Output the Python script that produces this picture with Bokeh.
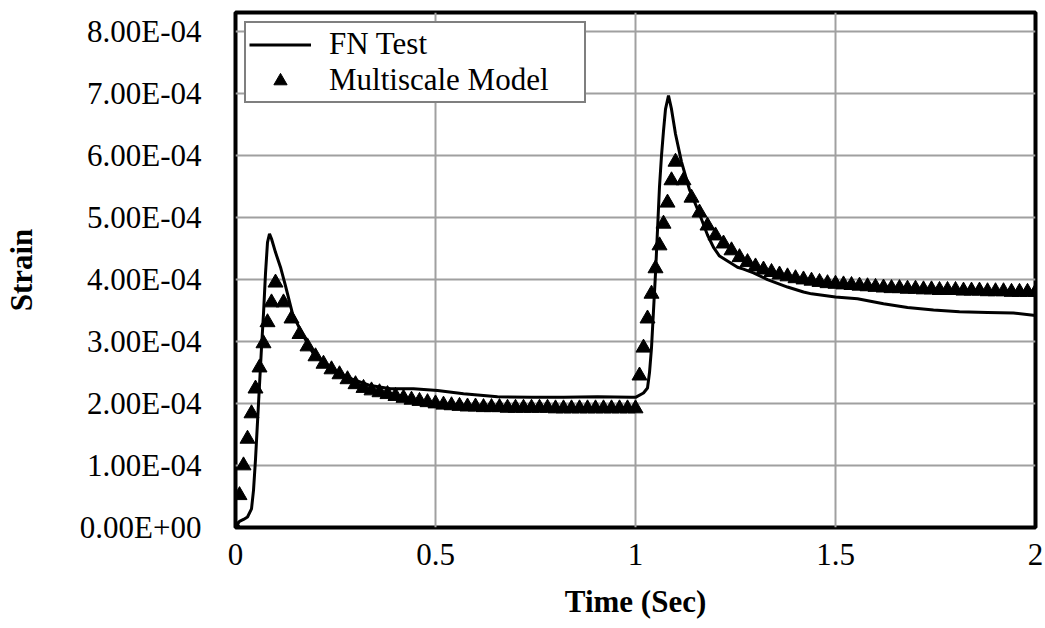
from bokeh.plotting import figure
from bokeh.models import FixedTicker, CustomJSTickFormatter, Range1d, Legend, LegendItem
from bokeh.embed import file_html
from bokeh.resources import INLINE

SCALE = 1e-4  # values below are given in units of 1E-04

# FN Test (solid line)
test_time = [0, 0.01, 0.02, 0.03, 0.04, 0.045, 0.05, 0.055, 0.06, 0.065, 0.07, 0.075, 0.08, 0.085,
             0.09, 0.1, 0.1125, 0.125, 0.1425, 0.1625, 0.195, 0.2375, 0.28, 0.3375, 0.3875, 0.445,
             0.505, 0.57, 0.655, 0.74, 0.82, 0.905, 0.99, 1.0, 1.02, 1.03, 1.035, 1.04, 1.045, 1.05,
             1.055, 1.06, 1.065, 1.07, 1.075, 1.0825, 1.09, 1.1, 1.115, 1.135, 1.16, 1.18, 1.195,
             1.21, 1.23, 1.255, 1.27, 1.295, 1.33, 1.38, 1.42, 1.44, 1.5, 1.555, 1.62, 1.68, 1.745,
             1.81, 1.88, 1.945, 2.0]
test_strain = [0, 0.1, 0.13, 0.17, 0.3, 0.6, 1.1, 1.7, 2.3, 2.9, 3.45, 4.1, 4.6, 4.74,
               4.66, 4.44, 4.2, 3.9, 3.45, 3.18, 2.8, 2.58, 2.42, 2.29, 2.24, 2.24,
               2.21, 2.16, 2.11, 2.10, 2.10, 2.11, 2.10, 2.10, 2.17, 2.25, 2.5, 2.9, 3.5, 4.1,
               4.8, 5.5, 6.0, 6.4, 6.75, 6.97, 6.75, 6.35, 5.9, 5.45, 5.06, 4.72, 4.52,
               4.38, 4.3, 4.2, 4.17, 4.11, 4.0, 3.88, 3.8, 3.77, 3.72, 3.69, 3.61, 3.55, 3.51,
               3.48, 3.47, 3.46, 3.42]

# Multiscale Model (triangles)
model_time = [0, 0.01, 0.02, 0.03, 0.04, 0.05, 0.06, 0.07, 0.08, 0.09, 0.10,
              0.12, 0.14, 0.16, 0.18, 0.20, 0.22, 0.24, 0.26, 0.28, 0.30, 0.32, 0.34, 0.36, 0.38,
              0.40, 0.42, 0.44, 0.46, 0.48, 0.50, 0.52, 0.54, 0.56, 0.58, 0.60, 0.62, 0.64, 0.66,
              0.68, 0.70, 0.72, 0.74, 0.76, 0.78, 0.80, 0.82, 0.84, 0.86, 0.88, 0.90, 0.92, 0.94,
              0.96, 0.98, 1.00,
              1.01, 1.02, 1.03, 1.04, 1.05, 1.06, 1.07, 1.08, 1.09, 1.10,
              1.12, 1.14, 1.16, 1.18, 1.20, 1.22, 1.24, 1.26, 1.28, 1.30, 1.32, 1.34, 1.36, 1.38,
              1.40, 1.42, 1.44, 1.46, 1.48, 1.50, 1.52, 1.54, 1.56, 1.58, 1.60, 1.62, 1.64, 1.66,
              1.68, 1.70, 1.72, 1.74, 1.76, 1.78, 1.80, 1.82, 1.84, 1.86, 1.88, 1.90, 1.92, 1.94,
              1.96, 1.98, 2.00]
model_strain = [0, 0.52, 1.00, 1.43, 1.84, 2.24, 2.58, 2.97, 3.31, 3.63, 3.95,
                3.63, 3.37, 3.12, 2.92, 2.76, 2.64, 2.55, 2.47, 2.39, 2.31, 2.25, 2.21, 2.18, 2.15,
                2.12, 2.09, 2.06, 2.04, 2.02, 2.00, 1.98, 1.97, 1.96, 1.95, 1.95, 1.94, 1.94, 1.94,
                1.93, 1.93, 1.93, 1.93, 1.93, 1.93, 1.92, 1.92, 1.92, 1.92, 1.92, 1.92, 1.92, 1.92,
                1.92, 1.92, 1.92,
                2.45, 2.90, 3.37, 3.77, 4.18, 4.55, 4.90, 5.24, 5.60, 5.90,
                5.60, 5.32, 5.08, 4.87, 4.71, 4.58, 4.47, 4.36, 4.28, 4.21, 4.16, 4.12, 4.08, 4.05,
                4.02, 4.00, 3.98, 3.96, 3.94, 3.93, 3.92, 3.91, 3.90, 3.89, 3.88, 3.87, 3.86, 3.86,
                3.85, 3.85, 3.84, 3.84, 3.83, 3.83, 3.83, 3.82, 3.82, 3.82, 3.81, 3.81, 3.81, 3.80,
                3.80, 3.80, 3.80]

x_ticks = [0, 0.5, 1, 1.5, 2]
y_ticks = [0, 1e-4, 2e-4, 3e-4, 4e-4, 5e-4, 6e-4, 7e-4, 8e-4]
series_names = ["FN Test", "Multiscale Model"]
x_title = "Time (Sec)"
y_title = "Strain"

FONT = "Liberation Serif"

p = figure(width=1045, height=628, output_backend="svg", toolbar_location=None,
           x_range=Range1d(0, 2), y_range=Range1d(0, 8.31e-4),
           min_border_left=235, min_border_right=10, min_border_top=12, min_border_bottom=101)
p.background_fill_color = "white"
p.border_fill_color = "white"
p.outline_line_color = "black"
p.outline_line_width = 4

line_r = p.line([t for t in test_time], [v * SCALE for v in test_strain],
                line_color="black", line_width=3)
tri_r = p.scatter([t for t in model_time], [v * SCALE for v in model_strain],
                  marker="triangle", size=15, fill_color="black", line_color="black")

p.xaxis.ticker = FixedTicker(ticks=x_ticks)
p.yaxis.ticker = FixedTicker(ticks=y_ticks)
p.xaxis.formatter = CustomJSTickFormatter(code="return String(Math.round(tick*10)/10);")
p.yaxis.formatter = CustomJSTickFormatter(code="""
const parts = tick.toExponential(2).split('e');
const e = parts[1];
const sign = e[0];
const d = e.slice(1).padStart(2, '0');
return parts[0] + 'E' + sign + d;
""")

for ax in (p.xaxis, p.yaxis):
    ax.axis_line_color = None
    ax.major_tick_line_color = None
    ax.minor_tick_line_color = None
    ax.major_label_text_font = FONT
    ax.major_label_text_font_size = "31px"
    ax.major_label_text_color = "black"
    ax.axis_label_text_font = FONT
    ax.axis_label_text_font_size = "31px"
    ax.axis_label_text_font_style = "bold"
    ax.axis_label_text_color = "black"

p.xaxis.axis_label = x_title
p.yaxis.axis_label = y_title
p.yaxis.major_label_standoff = 28
p.yaxis.axis_label_standoff = 38
p.xaxis.major_label_standoff = 10
p.xaxis.axis_label_standoff = 16

p.xgrid.grid_line_color = "#a0a0a0"
p.ygrid.grid_line_color = "#a0a0a0"
p.xgrid.grid_line_width = 2
p.ygrid.grid_line_width = 2

legend = Legend(items=[LegendItem(label=series_names[0], renderers=[line_r]),
                       LegendItem(label=series_names[1], renderers=[tri_r])],
                location="top_left", margin=9, padding=3, spacing=0,
                glyph_width=62, glyph_height=33, label_height=33, label_width=252,
                label_standoff=18,
                label_text_font=FONT, label_text_font_size="31px", label_text_color="black",
                border_line_color="black", border_line_width=2,
                background_fill_color="white", background_fill_alpha=1)
p.add_layout(legend, "center")

open("out.html", "w").write(file_html(p, INLINE))
